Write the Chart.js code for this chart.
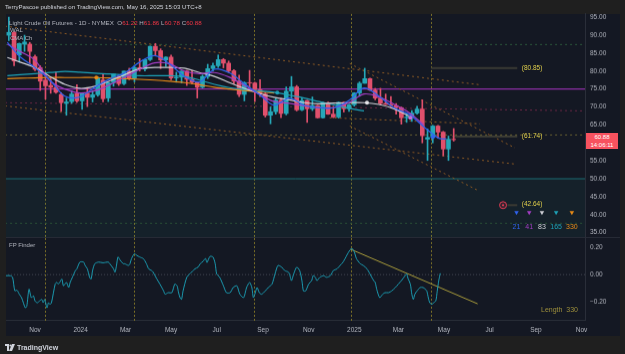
<!DOCTYPE html>
<html lang="en">
<head>
<meta charset="UTF-8">
<meta name="viewport" content="width=device-width, initial-scale=1.0">
<title>Light Crude Oil Futures - 1D - NYMEX</title>
<script src="https://cdn.jsdelivr.net/npm/chart.js@4.4.1/dist/chart.umd.min.js"></script>
<style>
  html, body { margin: 0; background: #1f1f1f; }
  body { position: relative; width: 625px; height: 354px; overflow: hidden; font-family: "Liberation Sans", Arial, sans-serif; }
  #panel { position: absolute; left: 6px; top: 14px; width: 614px; height: 322px; background: #141823; }
  canvas { position: absolute; left: 0; }
  #price { top: 14px; }
  #fp { top: 237px; }
  #sep { position: absolute; left: 6px; top: 237px; width: 614px; height: 1px; background: #262a35; }
  .t { position: absolute; white-space: nowrap; line-height: 1; font-size: 6px; color: #b2b5be; }
  .red { color: #f23645; }
  .lvl { color: #e0cf4c; font-size: 6.5px; transform: translateY(-50%); }
  .num { font-size: 7px; transform: translate(-50%, -50%); }
  #last { position: absolute; left: 586px; width: 32px; height: 16px; background: #f7525f; color: #fff; font-size: 6px; line-height: 8px; text-align: center; }
</style>
</head>
<body>
<div id="panel"></div>
<canvas id="price" width="620" height="223"></canvas>
<div id="sep"></div>
<canvas id="fp" width="620" height="99"></canvas>

<div class="t" style="left:5px;top:4px;font-size:6.1px;color:#d1d4dc">TerryPascoe published on TradingView.com, May 16, 2025 15:03 UTC+8</div>
<div class="t" style="left:9px;top:19.5px;font-size:6.2px">Light Crude Oil Futures - 1D - NYMEX&nbsp; O<span class="red">61.22</span> H<span class="red">61.86</span> L<span class="red">60.78</span> C<span class="red">60.88</span></div>
<div class="t" style="left:10px;top:27px">WAL</div>
<div class="t" style="left:10px;top:35px">CMA Ch</div>
<div class="t" style="left:9px;top:242px">FP Finder</div>
<div class="t" style="right:47px;top:306px;font-size:7px;color:#9d8f3c">Length&nbsp;&nbsp;330</div>
<div style="position:absolute;left:5px;top:342px;height:10px;display:flex;align-items:center">
  <svg width="10" height="7" viewBox="0 0 20 14"><path d="M0 0h8v14H4V4H0z" fill="#d1d4dc"/><circle cx="11" cy="3" r="2.2" fill="#d1d4dc"/><path d="M14 0h6l-6 14H8z" fill="#d1d4dc"/></svg>
  <span style="font-size:7px;font-weight:bold;color:#d1d4dc;margin-left:2px">TradingView</span>
</div>

<script>
// weekly candles (Mon of each week)
const weeks = [
  '2023-09-25','2023-10-02','2023-10-09','2023-10-16','2023-10-23','2023-10-30','2023-11-06','2023-11-13','2023-11-20','2023-11-27','2023-12-04','2023-12-11','2023-12-18','2023-12-25',
  '2024-01-01','2024-01-08','2024-01-15','2024-01-22','2024-01-29','2024-02-05','2024-02-12','2024-02-19','2024-02-26','2024-03-04','2024-03-11','2024-03-18','2024-03-25',
  '2024-04-01','2024-04-08','2024-04-15','2024-04-22','2024-04-29','2024-05-06','2024-05-13','2024-05-20','2024-05-27','2024-06-03','2024-06-10','2024-06-17','2024-06-24',
  '2024-07-01','2024-07-08','2024-07-15','2024-07-22','2024-07-29','2024-08-05','2024-08-12','2024-08-19','2024-08-26','2024-09-02','2024-09-09','2024-09-16','2024-09-23',
  '2024-09-30','2024-10-07','2024-10-14','2024-10-21','2024-10-28','2024-11-04','2024-11-11','2024-11-18','2024-11-25','2024-12-02','2024-12-09','2024-12-16','2024-12-23','2024-12-30',
  '2025-01-06','2025-01-13','2025-01-20','2025-01-27','2025-02-03','2025-02-10','2025-02-17','2025-02-24','2025-03-03','2025-03-10','2025-03-17','2025-03-24','2025-03-31',
  '2025-04-07','2025-04-14','2025-04-21','2025-04-28','2025-05-05','2025-05-12'
];
const open = [
  90.0, 90.8, 84.5, 87.5, 87.5, 84.0, 81.0, 77.5, 76.0, 75.5, 73.5, 71.0, 71.5, 73.8,
  71.7, 73.8, 72.7, 73.4, 77.5, 72.5, 76.8, 78.5, 76.5, 80.0, 78.0, 81.0, 80.6,
  83.2, 86.9, 85.7, 83.1, 83.9, 78.1, 78.3, 80.0, 77.7, 76.9, 75.5, 78.5, 80.7,
  81.5, 83.2, 82.2, 80.1, 77.2, 73.5, 76.8, 76.7, 74.8, 73.6, 67.7, 68.7, 71.9,
  68.2, 74.4, 75.6, 69.2, 71.8, 69.5, 70.4, 67.0, 71.2, 68.0, 67.2, 71.3, 69.5, 70.6,
  73.9, 76.6, 77.9, 74.7, 72.5, 71.0, 70.7, 70.4, 69.8, 67.0, 67.2, 68.3, 69.4,
  61.0, 61.5, 64.7, 63.0, 58.3, 61.0
];
const high = [
  95.0, 91.0, 87.8, 90.0, 88.0, 84.5, 81.5, 79.0, 78.0, 79.8, 74.0, 72.5, 74.5, 76.2,
  73.9, 75.2, 74.5, 78.4, 79.3, 76.9, 79.2, 78.9, 80.0, 80.8, 81.6, 83.5, 83.3,
  87.0, 87.7, 86.2, 84.0, 84.5, 79.7, 80.0, 80.2, 80.1, 77.0, 78.9, 81.9, 82.2,
  84.5, 83.5, 82.8, 80.4, 78.9, 77.0, 80.2, 76.9, 77.6, 74.0, 70.0, 72.4, 72.4,
  75.6, 78.5, 76.0, 72.6, 71.9, 72.8, 70.5, 71.4, 71.4, 70.2, 71.4, 71.4, 70.8, 74.0,
  77.0, 80.8, 78.0, 75.2, 75.2, 73.6, 72.9, 71.0, 70.0, 68.3, 69.0, 70.2, 72.0,
  63.9, 64.9, 64.9, 63.2, 61.9, 64.0
];
const low = [
  88.5, 81.5, 82.5, 85.5, 82.0, 80.1, 74.6, 72.2, 73.8, 73.8, 68.8, 67.7, 71.0, 71.3,
  69.3, 70.1, 71.4, 73.0, 71.4, 71.5, 75.8, 76.0, 76.2, 77.6, 77.0, 80.0, 80.0,
  82.9, 84.4, 80.7, 81.3, 77.6, 76.9, 76.7, 76.0, 76.4, 72.5, 75.3, 77.9, 80.0,
  81.0, 80.9, 79.6, 76.5, 72.9, 71.7, 75.5, 71.5, 72.9, 67.2, 65.3, 68.0, 67.0,
  67.8, 72.3, 68.9, 69.0, 65.7, 69.0, 66.9, 66.9, 67.9, 67.0, 66.9, 68.6, 68.8, 70.2,
  73.0, 76.6, 74.6, 72.0, 70.6, 70.7, 70.0, 68.0, 65.2, 65.7, 66.0, 68.0, 60.0,
  55.1, 60.0, 61.3, 56.4, 55.1, 60.5
];
const close = [
  90.8, 82.8, 87.7, 88.1, 85.5, 80.5, 77.2, 75.9, 75.5, 74.1, 71.2, 71.4, 73.6, 71.7,
  73.8, 72.7, 73.4, 78.0, 72.3, 76.8, 79.2, 76.5, 80.0, 78.0, 81.0, 80.6, 83.2,
  86.9, 85.7, 83.1, 83.9, 78.1, 78.3, 80.0, 77.7, 76.9, 75.5, 78.5, 80.7, 81.5,
  83.2, 82.2, 80.1, 77.2, 73.5, 76.8, 76.7, 74.8, 73.6, 67.7, 68.7, 71.9, 68.2,
  74.4, 75.6, 69.2, 71.8, 69.5, 70.4, 67.0, 71.2, 68.0, 67.2, 71.3, 69.5, 70.6, 73.9,
  76.6, 77.9, 74.7, 72.5, 71.0, 70.7, 70.4, 69.8, 67.0, 67.2, 68.3, 69.4, 62.0,
  61.5, 64.7, 63.0, 58.3, 61.0, 60.9
];

// moving-average channel lines, days counted from 2023-11-01
const maDays = [-37, -20, 0, 20, 40, 60, 80, 100, 120, 140, 160, 180, 200, 220, 240, 260, 280, 300, 320, 340, 360, 380, 400, 420, 440, 460, 480, 500, 520, 540, 550];
const ma21  = [88, 84, 81, 77.5, 73, 72.8, 75.5, 77.8, 79.5, 82.5, 84.3, 82, 78.5, 77, 80.5, 79.5, 76.5, 73.5, 70.5, 72.5, 70.5, 69.8, 69.8, 71.8, 75.3, 73, 69.8, 68, 64.5, 61.3, 61.1];
const ma41  = [87.5, 85.5, 83, 77.3, 75, 73.9, 74.5, 76.2, 78.3, 80.5, 82.3, 82, 80, 79.3, 79.6, 78.3, 76, 73.5, 71.5, 71, 70.3, 69.8, 69.8, 71.2, 73.6, 72.8, 70.8, 68.5, 65, null, null];
const ma83  = [83.8, 82.5, 81, 78.5, 76.3, 75.2, 75.8, 77.3, 79, 80.7, 81, 81, 80.8, 79.6, 78.5, 76.8, 75.2, 73.8, 72.7, 72, 71.2, 70.9, 71.1, 71.2, 71.2, 70.7, 69.5, 67.5, null, null, null];
const ma165 = [78.7, 79, 79.3, 79.6, 79.9, 79.7, 79.4, 79.2, 78.9, 78.7, 78.7, 78.7, 78.5, 77.5, 76.3, 75.4, 74.9, 74.5, 74.1, 73.3, 72.5, 71.5, 70.6, 69.6, 68.9, null, null, null, null, null, null];
const ma330 = [77.9, 78, 78.1, 78.2, 78.2, 78.2, 78.2, 78.1, 77.9, 77.7, 77.5, 77.2, 76.8, 76.2, 75.5, 75, 74.6, 74.2, 73.9, null, null, null, null, null, null, null, null, null, null, null, null];
const maDots = [[82, 78.2], [324, 74.0], [444, 71.2], [502, 67.0], [532, 61.6]];
const maLengths = ['21', '41', '83', '165', '330'];
const maColors = ['#2f63ee', '#a33ec4', '#cfd0d6', '#1ea3b8', '#e88b17'];
const maDotColors = ['#e88b17', '#1ea3b8', '#e6e6ea', '#c86bd6', '#2f63ee'];
const legendDays = [644, 661, 678, 697, 718];

// drawn trend lines [day0, price0, day1, price1]
const channels = [
  [-40, 92.5, 595, 76.2],
  [421, 82.1, 642, 58.6],
  [421, 64.7, 592, 46.8],
  [-40, 70.3, 642, 54.1],
  [394, 67.0, 595, 65.3]
];
const maroonLine = [-40, 71.2, 740, 68.9];
const greenHigh = 87.4, purpleLevel = 75, oliveLevel = 62.2, floorLevel = 50, greenLow = 37.6;
const targets = [80.85, 61.74, 42.64];
const targetFrom = [530, 558, 632];
const lastPrice = 60.88;

const sessionDates = ['2023-11-15', '2024-03-12', '2024-08-20', '2024-12-28', '2025-04-13'];
const monthDates = ['2023-11-01', '2024-01-01', '2024-03-01', '2024-05-01', '2024-07-01', '2024-09-01', '2024-11-01', '2025-01-01', '2025-03-01', '2025-05-01', '2025-07-01', '2025-09-01', '2025-11-01'];
const monthLabels = ['Nov', '2024', 'Mar', 'May', 'Jul', 'Sep', 'Nov', '2025', 'Mar', 'May', 'Jul', 'Sep', 'Nov'];
const priceTicks = [35, 40, 45, 50, 55, 60, 65, 70, 75, 80, 85, 90, 95];
const oscTicks = [0.2, 0, -0.2];

// FP Finder oscillator [day, value]
const fpFinder = [
  [-39,-0.008],[-33,-0.008],[-30,-0.02],[-27,-0.12],[-24,-0.116],[-21,-0.146],[-18,-0.171],[-13,-0.247],[-11,-0.234],[-8,-0.108],
  [-5,-0.171],[-2,-0.158],[0,-0.196],[3,-0.209],[6,-0.196],[9,-0.184],[11,-0.209],[13,-0.184],[16,-0.247],[18,-0.209],
  [20,-0.221],[22,-0.209],[27,-0.07],[29,-0.058],[31,-0.07],[33,-0.058],[36,-0.033],[38,-0.083],[42,-0.058],[45,-0.096],
  [47,-0.058],[50,-0.02],[54,0.03],[56,0.043],[60,0.093],[65,0.093],[67,0.068],[70,0.043],[73,-0.02],[75,-0.033],
  [77,0.03],[80,0.081],[85,0.093],[91,0.088],[98,0.093],[100,0.081],[105,0.043],[107,0.018],[109,0.068],[111,0.131],
  [114,0.106],[118,0.081],[120,0.081],[125,0.068],[127,0.081],[129,0.118],[133,0.156],[136,0.143],[140,0.131],[145,0.118],
  [149,0.081],[152,0.043],[156,0.03],[158,0.018],[163,-0.033],[167,-0.07],[172,-0.121],[174,-0.146],[178,-0.134],[183,-0.134],
  [187,-0.07],[190,-0.083],[192,-0.134],[194,-0.171],[196,-0.184],[198,-0.121],[203,-0.02],[207,0.005],[214,0.043],[218,0.055],
  [221,0.081],[225,0.1],[228,0.12],[230,0.09],[234,0.135],[238,0.131],[241,0.081],[243,0.005],[247,-0.02],[252,-0.083],
  [256,-0.134],[261,-0.134],[265,-0.096],[270,-0.083],[274,-0.146],[279,-0.171],[283,-0.096],[287,-0.058],[290,-0.096],[292,-0.171],
  [294,-0.146],[297,-0.096],[300,-0.134],[303,-0.146],[308,-0.121],[312,-0.096],[317,-0.07],[321,0.005],[325,0.068],[330,0.055],
  [334,0.03],[339,0.018],[341,-0.008],[343,-0.045],[346,0.005],[350,0.055],[354,0.03],[357,-0.045],[359,-0.121],[362,-0.121],
  [366,-0.07],[370,-0.045],[372,-0.008],[375,-0.02],[377,-0.045],[381,-0.02],[386,-0.008],[390,-0.02],[395,-0.008],[399,0.03],
  [404,0.043],[408,0.068],[412,0.093],[417,0.143],[421,0.181],[424,0.194],[427,0.169],[430,0.118],[435,0.081],[439,0.068],
  [444,0.043],[448,0.005],[453,-0.045],[455,-0.058],[457,-0.108],[461,-0.171],[465,-0.146],[468,-0.134],[473,-0.134],[477,-0.121],
  [482,-0.096],[486,-0.07],[490,-0.045],[495,-0.008],[497,0.005],[499,-0.03],[502,-0.07],[504,-0.146],[506,-0.184],[508,-0.146],
  [511,-0.121],[515,-0.096],[519,-0.096],[522,-0.108],[524,-0.121],[526,-0.171],[528,-0.209],[531,-0.221],[533,-0.209],[536,-0.196],
  [538,-0.121],[540,-0.045],[542,0.01]
];
const fpTrend = [422, 0.189, 592, -0.217];

// ---------------------------------------------------------------
const DAY0 = Date.UTC(2023, 10, 1);
const toDay = s => (Date.UTC(+s.slice(0, 4), +s.slice(5, 7) - 1, +s.slice(8, 10)) - DAY0) / 864e5;
const X_MIN = -38.8, X_MAX = 735.6;
const UP = '#26a7b7', DN = '#e0506c';

const wkX = weeks.map(w => toDay(w) + 2);
const candleCol = close.map((c, i) => c >= open[i] ? UP : DN);
const sessionDays = sessionDates.map(toDay);
const monthX = monthDates.map(toDay);

const seg = (x0, y0, x1, y1) => [{ x: x0, y: y0 }, { x: x1, y: y1 }];
const line = (data, color, extra) => Object.assign({
  type: 'line', data, borderColor: color, borderWidth: 1, pointRadius: 0, fill: false, order: 8
}, extra || {});
const maLine = (vals, i) => line(maDays.map((d, k) => ({ x: d, y: vals[k] })), maColors[i],
  { borderWidth: 1.2, tension: 0.35, order: 3 });

Chart.defaults.font.family = '"Liberation Sans", Arial, sans-serif';
Chart.defaults.font.size = 6.5;
Chart.defaults.color = '#b2b5be';

const sessionLines = {
  id: 'sessions',
  beforeDatasetsDraw(chart) {
    const { ctx, chartArea: a, scales: { x } } = chart;
    ctx.save();
    ctx.strokeStyle = '#7d7228';
    ctx.lineWidth = 1;
    ctx.setLineDash([2, 2]);
    sessionDays.forEach(d => {
      const px = Math.round(x.getPixelForValue(d)) + 0.5;
      ctx.beginPath(); ctx.moveTo(px, a.top); ctx.lineTo(px, a.bottom); ctx.stroke();
    });
    ctx.restore();
  }
};

const rightAxis = (min, max, ticks, fmt) => ({
  position: 'right', min, max,
  afterFit: s => { s.width = 35; },
  afterBuildTicks: s => { s.ticks = ticks.map(v => ({ value: v })); },
  grid: { display: false, drawTicks: false },
  border: { display: true, color: '#2a2e39' },
  ticks: { padding: 5, callback: fmt }
});

const dashed = { borderDash: [2, 3] };
const base = {
  responsive: false, maintainAspectRatio: false, animation: false, events: [],
  plugins: { legend: { display: false }, tooltip: { enabled: false } }
};

const priceChart = new Chart(document.getElementById('price'), {
  type: 'bar',
  data: {
    datasets: [
      line(maDots.map(p => ({ x: p[0], y: p[1] })), 'transparent',
        { showLine: false, pointRadius: 2, pointBorderWidth: 0, pointBackgroundColor: maDotColors, order: 1 }),
      line(legendDays.map(d => ({ x: d, y: 40.6 })), 'transparent',
        { showLine: false, pointStyle: 'triangle', rotation: 180, pointRadius: 2.6, pointBorderWidth: 0, pointBackgroundColor: maColors, order: 1 }),
      line([{ x: 626, y: targets[2] }], 'transparent',
        { showLine: false, pointRadius: 3.5, pointBorderWidth: 1, pointBorderColor: '#e23d55', pointBackgroundColor: 'rgba(226,61,85,0.15)', order: 1 }),
      line([{ x: 626, y: targets[2] }], 'transparent',
        { showLine: false, pointRadius: 1.1, pointBorderWidth: 0, pointBackgroundColor: '#e23d55', order: 1 }),
      maLine(ma21, 0), maLine(ma41, 1), maLine(ma83, 2), maLine(ma165, 3), maLine(ma330, 4),
      { type: 'bar', data: wkX.map((x, i) => ({ x, y: [open[i], close[i]] })), backgroundColor: candleCol, barThickness: 4, grouped: false, order: 4 },
      { type: 'bar', data: wkX.map((x, i) => ({ x, y: [low[i], high[i]] })), backgroundColor: candleCol, barThickness: 1, grouped: false, order: 5 },
      ...targets.map((t, i) => line(seg(targetFrom[i], t, 645, t), '#3b3b34', { borderWidth: 2 })),
      ...channels.map(c => line(seg(c[0], c[1], c[2], c[3]), '#8c5a25', dashed)),
      line(seg(maroonLine[0], maroonLine[1], maroonLine[2], maroonLine[3]), '#6b2745', dashed),
      line(seg(-40, greenHigh, 740, greenHigh), '#2d5a3c', dashed),
      line(seg(-40, oliveLevel, 740, oliveLevel), '#6a6232', dashed),
      line(seg(-40, greenLow, 740, greenLow), '#2a5238', dashed),
      line(seg(-40, purpleLevel, 740, purpleLevel), '#8e2fa6', { borderWidth: 1.3 }),
      line(seg(-40, floorLevel, 740, floorLevel), '#1d6f75',
        { fill: 'start', backgroundColor: 'rgba(38,120,110,0.10)', order: 10 })
    ]
  },
  options: Object.assign({}, base, {
    layout: { padding: { left: 6 }, autoPadding: false },
    scales: {
      x: { type: 'linear', min: X_MIN, max: X_MAX, display: false, offset: false },
      y: rightAxis(33.52, 95.92, priceTicks, v => v.toFixed(2))
    }
  }),
  plugins: [sessionLines]
});

const fpChart = new Chart(document.getElementById('fp'), {
  type: 'line',
  data: {
    datasets: [
      line(fpFinder.map(p => ({ x: p[0], y: p[1] })), '#1c9db3', { tension: 0.25, order: 1 }),
      line(seg(fpTrend[0], fpTrend[1], fpTrend[2], fpTrend[3]), '#a89b3c', { order: 2 }),
      line(seg(-40, 0, 740, 0), '#4a4f5a', { borderDash: [1, 2], order: 3 })
    ]
  },
  options: Object.assign({}, base, {
    layout: { padding: { left: 6 }, autoPadding: false },
    scales: {
      x: {
        type: 'linear', min: X_MIN, max: X_MAX, offset: false,
        afterFit: s => { s.height = 16; },
        afterBuildTicks: s => { s.ticks = monthX.map(v => ({ value: v })); },
        grid: { display: false, drawTicks: false },
        border: { display: true, color: '#2a2e39' },
        ticks: { padding: 5, autoSkip: false, maxRotation: 0, callback: (v, i) => monthLabels[i] }
      },
      y: rightAxis(-0.343, 0.272, oscTicks, v => (v < 0 ? '\u2212' : '') + Math.abs(v).toFixed(2))
    }
  }),
  plugins: [sessionLines]
});

// the axis label padding shrinks the plot area; grow each canvas so the
// plot area lands on its pane (main 14..237, oscillator 238..320)
function fitPane(chart, areaTop, areaHeight) {
  const a = chart.chartArea;
  const padTop = a.top, padBottom = chart.height - a.bottom;
  chart.canvas.style.top = (areaTop - padTop) + 'px';
  chart.resize(chart.width, areaHeight + padTop + padBottom);
}
fitPane(priceChart, 14, 223);
fitPane(fpChart, 238, 82);

// text labels anchored to the price scale
const paneTop = parseFloat(priceChart.canvas.style.top);
function label(text, cls, day, price) {
  const d = document.createElement('div');
  d.className = 't ' + cls;
  d.textContent = text;
  d.style.left = priceChart.scales.x.getPixelForValue(day) + 'px';
  d.style.top = (paneTop + priceChart.scales.y.getPixelForValue(price)) + 'px';
  document.body.appendChild(d);
  return d;
}
targets.forEach(t => label('(' + t.toFixed(2) + ')', 'lvl', 651, t));
maLengths.forEach((n, i) => { label(n, 'num', legendDays[i], 36.7).style.color = maColors[i]; });

const last = document.createElement('div');
last.id = 'last';
last.innerHTML = lastPrice.toFixed(2) + '<br>14:06:11';
last.style.top = (paneTop + priceChart.scales.y.getPixelForValue(lastPrice) - 6) + 'px';
document.body.appendChild(last);
</script>
</body>
</html>
